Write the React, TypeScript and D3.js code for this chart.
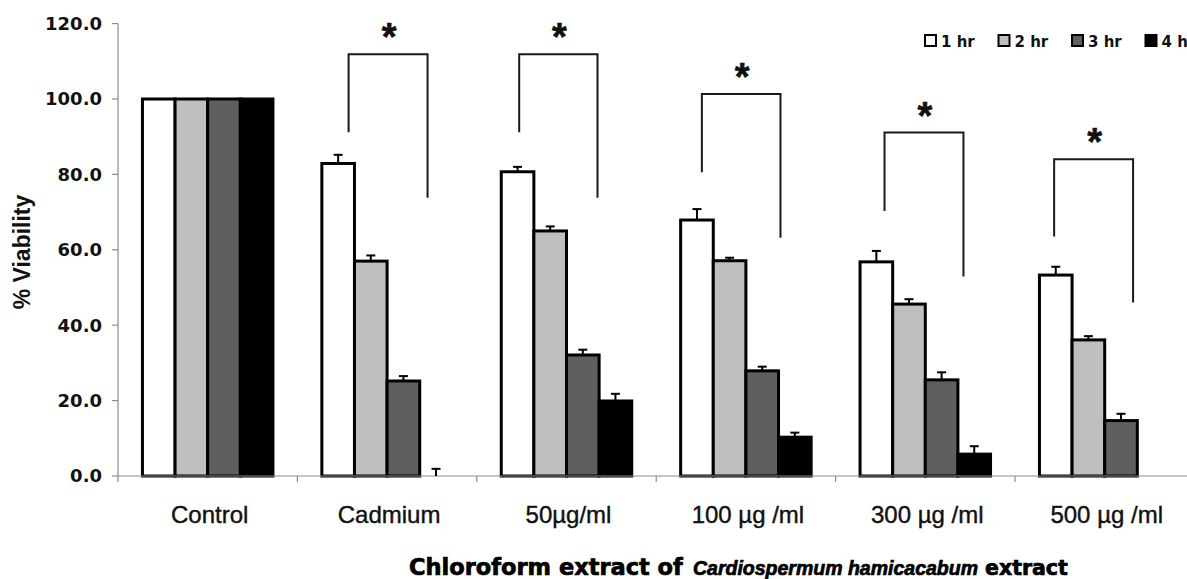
import React from "react";
import * as d3 from "d3";

const categories = ["Control", "Cadmium", "50µg/ml", "100 µg /ml", "300 µg /ml", "500 µg /ml"];
const seriesNames = ["1 hr", "2 hr", "3 hr", "4 hr"];
const seriesColors = ["#ffffff", "#bfbfbf", "#5f5f5f", "#000000"];

const values1hr = [100, 82.9, 80.7, 67.9, 56.8, 53.3];
const values2hr = [100, 57.0, 65.0, 57.1, 45.6, 36.1];
const values3hr = [100, 25.2, 32.1, 27.9, 25.5, 14.7];
const values4hr = [100, 0, 19.9, 10.3, 5.8, 0];

const err1hr = [null, 2.3, 1.3, 2.9, 2.9, 2.2];
const err2hr = [null, 1.5, 1.2, 0.8, 1.3, 1.0];
const err3hr = [null, 1.3, 1.4, 1.1, 2.0, 1.8];
const err4hr = [null, 1.9, 1.9, 1.2, 2.1, null];

const yTicks = [0, 20, 40, 60, 80, 100, 120];

// significance brackets (in bar-slot units and data values)
const bracketCats = ["Cadmium", "50µg/ml", "100 µg /ml", "300 µg /ml", "500 µg /ml"];
const bracketLeftSlot = [0.82, 0.55, 0.65, 0.75, 0.45];
const bracketRightSlot = [3.24, 2.95, 3.06, 3.17, 2.87];
const bracketTop = [111.9, 111.9, 101.3, 91.1, 84.0];
const bracketLeftEnd = [91.2, 91.2, 80.6, 70.3, 63.5];
const bracketRightEnd = [73.8, 73.8, 63.2, 52.9, 46.0];

const titleParts = ["Chloroform extract of", "Cardiospermum hamicacabum", "extract"];

const allValues = [values1hr, values2hr, values3hr, values4hr];
const allErrors = [err1hr, err2hr, err3hr, err4hr];

export default function App() {
  const W = 1187;
  const H = 579;
  const left = 118;
  const step = 179.4;
  const p = 0.2726;
  const x0 = d3
    .scaleBand<string>()
    .domain(categories)
    .range([left, left + step * categories.length])
    .paddingInner(p)
    .paddingOuter(p / 2);
  const x1 = d3.scaleBand<string>().domain(seriesNames).range([0, x0.bandwidth()]);
  const y = d3.scaleLinear().domain([0, 120]).range([476, 476 - 3.77 * 120]);

  const boundaries = categories.map((c) => (x0(c) as number) - (x0.step() * p) / 2).concat([
    (x0(categories[categories.length - 1]) as number) + x0.bandwidth() + (x0.step() * p) / 2,
  ]);

  const labelFont = "'Liberation Sans', Arial, sans-serif";
  const tickFont = "'DejaVu Sans', Verdana, sans-serif";

  const titleX = [409, 693, 985];
  const titleFont = [tickFont, labelFont, tickFont];
  const titleSize = [22.5, 19.5, 20.5];

  return (
    <svg
      width={W}
      height={H}
      style={{ position: "absolute", left: 0, top: 0, background: "#fff" }}
    >
      <rect x={0} y={0} width={W} height={H} fill="#fff" />
      {/* y axis */}
      <line x1={left} x2={left} y1={y(0)} y2={y(120)} stroke="#8c8c8c" strokeWidth={1.2} />
      {yTicks.map((t) => (
        <g key={t}>
          <line x1={left - 6} x2={left} y1={y(t)} y2={y(t)} stroke="#8c8c8c" strokeWidth={1.2} />
          <text
            x={102}
            y={y(t)}
            dy="0.36em"
            textAnchor="end"
            fontFamily={tickFont}
            fontWeight="bold"
            fontSize={18}
            fill="#111"
          >
            {t.toFixed(1)}
          </text>
        </g>
      ))}
      <text
        transform={`translate(30,252) rotate(-90)`}
        textAnchor="middle"
        fontFamily={labelFont}
        fontWeight="bold"
        fontSize={23}
        fill="#111"
      >
        % Viability
      </text>

      {/* bars */}
      {categories.map((c, ci) => (
        <g key={c}>
          {seriesNames.map((s, si) => {
            const v = allValues[si][ci];
            const bx = (x0(c) as number) + (x1(s) as number);
            const bw = x1.bandwidth();
            return v > 0 ? (
              <rect
                key={s}
                x={bx}
                y={y(v)}
                width={bw}
                height={y(0) - y(v)}
                fill={seriesColors[si]}
                stroke="#000"
                strokeWidth={3}
              />
            ) : null;
          })}
        </g>
      ))}

      {/* x axis */}
      <line x1={left} x2={W} y1={y(0)} y2={y(0)} stroke="#8c8c8c" strokeWidth={1.2} />
      {boundaries.map((b, i) => (
        <line key={i} x1={b} x2={b} y1={y(0)} y2={y(0) + 6} stroke="#8c8c8c" strokeWidth={1.2} />
      ))}

      {/* error bars */}
      {categories.map((c, ci) =>
        seriesNames.map((s, si) => {
          const e = allErrors[si][ci];
          if (e == null) return null;
          const v = allValues[si][ci];
          const cx = (x0(c) as number) + (x1(s) as number) + x1.bandwidth() / 2;
          return (
            <g key={c + s}>
              <line x1={cx} x2={cx} y1={y(v)} y2={y(v + e)} stroke="#000" strokeWidth={2} />
              <line x1={cx - 4.5} x2={cx + 4.5} y1={y(v + e)} y2={y(v + e)} stroke="#000" strokeWidth={2} />
            </g>
          );
        })
      )}

      {/* brackets */}
      {bracketCats.map((c, i) => {
        const base = x0(c) as number;
        const xl = base + bracketLeftSlot[i] * x1.step();
        const xr = base + bracketRightSlot[i] * x1.step();
        const yt = y(bracketTop[i]);
        return (
          <g key={c}>
            <path
              d={`M${xl},${y(bracketLeftEnd[i])}L${xl},${yt}L${xr},${yt}L${xr},${y(bracketRightEnd[i])}`}
              fill="none"
              stroke="#1a1a1a"
              strokeWidth={2}
            />
            <text
              x={(xl + xr) / 2 + 1}
              y={yt - 4}
              textAnchor="middle"
              fontFamily={labelFont}
              fontWeight="bold"
              fontSize={38}
              fill="#111"
              stroke="#111"
              strokeWidth={0.6}
            >
              *
            </text>
          </g>
        );
      })}

      {/* category labels */}
      {categories.map((c) => (
        <text
          key={c}
          x={(x0(c) as number) + x0.bandwidth() / 2 + 2}
          y={523}
          textAnchor="middle"
          fontFamily={labelFont}
          fontSize={24}
          fill="#111"
          stroke="#111"
          strokeWidth={0.4}
        >
          {c}
        </text>
      ))}

      {/* x title */}
      {titleParts.map((t, i) => (
        <text
          key={i}
          x={titleX[i]}
          y={575}
          fontFamily={titleFont[i]}
          fontWeight="bold"
          fontStyle={i === 1 ? "italic" : "normal"}
          fontSize={titleSize[i]}
          fill="#000"
          stroke="#000"
          strokeWidth={0.7}
        >
          {t}
        </text>
      ))}

      {/* legend */}
      {seriesNames.map((s, i) => {
        const lx = 925 + i * 73.5;
        return (
          <g key={s}>
            <rect x={lx} y={35} width={11} height={11} fill={seriesColors[i]} stroke="#000" strokeWidth={2} />
            <text
              x={lx + 16}
              y={47}
              fontFamily={tickFont}
              fontWeight="bold"
              fontSize={15}
              fill="#111"
            >
              {s}
            </text>
          </g>
        );
      })}
    </svg>
  );
}
